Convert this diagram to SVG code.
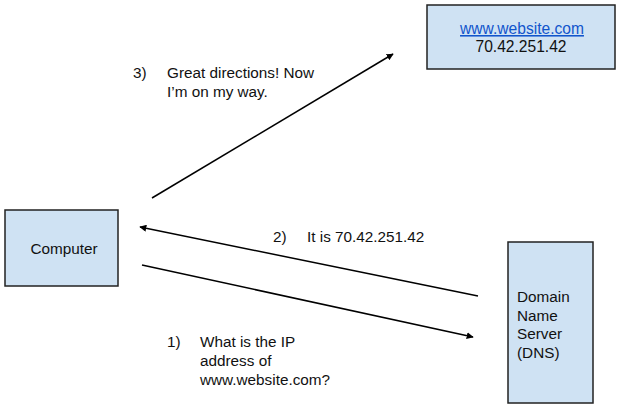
<svg xmlns="http://www.w3.org/2000/svg" width="622" height="410" viewBox="0 0 622 410">
<style>
.box{fill:#cfe2f3;stroke:#222;stroke-width:1.5}
text{font-family:"Liberation Sans",Arial,sans-serif;font-size:15.3px;fill:#111}
.big{font-size:15.6px}
.link{fill:#1155cc;text-decoration:underline}
.conn{stroke:#000;stroke-width:1.5;fill:none;marker-end:url(#ah)}
</style>
<defs>
<marker id="ah" viewBox="0 0 10 10" refX="9" refY="5" markerWidth="7" markerHeight="7" orient="auto" markerUnits="userSpaceOnUse">
<path d="M0,0 L10,5 L0,10 Z" fill="#000"/>
</marker>
</defs>
<rect width="622" height="410" fill="#fff"/>
<g id="website">
<rect class="box" x="427" y="5" width="188" height="64"/>
<text class="link big" x="522" y="34" text-anchor="middle">www.website.com</text>
<text class="big" x="521" y="52" text-anchor="middle">70.42.251.42</text>
</g>
<g id="computer">
<rect class="box" x="5" y="210" width="113" height="76"/>
<text x="64" y="254" text-anchor="middle">Computer</text>
</g>
<g id="dns">
<rect class="box" x="508" y="242" width="85" height="161"/>
<text x="517" y="302">Domain</text>
<text x="517" y="321">Name</text>
<text x="517" y="339">Server</text>
<text x="517" y="358">(DNS)</text>
</g>
<g id="connectors">
<line class="conn" x1="152" y1="198" x2="393" y2="54"/>
<line class="conn" x1="478" y1="296" x2="140" y2="227"/>
<line class="conn" x1="142" y1="265" x2="473" y2="337"/>
</g>
<g id="labels">
<text x="133" y="78">3)</text>
<text x="167" y="78">Great directions! Now</text>
<text x="167" y="97">I’m on my way.</text>
<text x="273" y="242">2)</text>
<text x="307" y="242">It is 70.42.251.42</text>
<text x="167" y="347">1)</text>
<text x="200" y="347">What is the IP</text>
<text x="200" y="366">address of</text>
<text x="200" y="385">www.website.com?</text>
</g>
</svg>
